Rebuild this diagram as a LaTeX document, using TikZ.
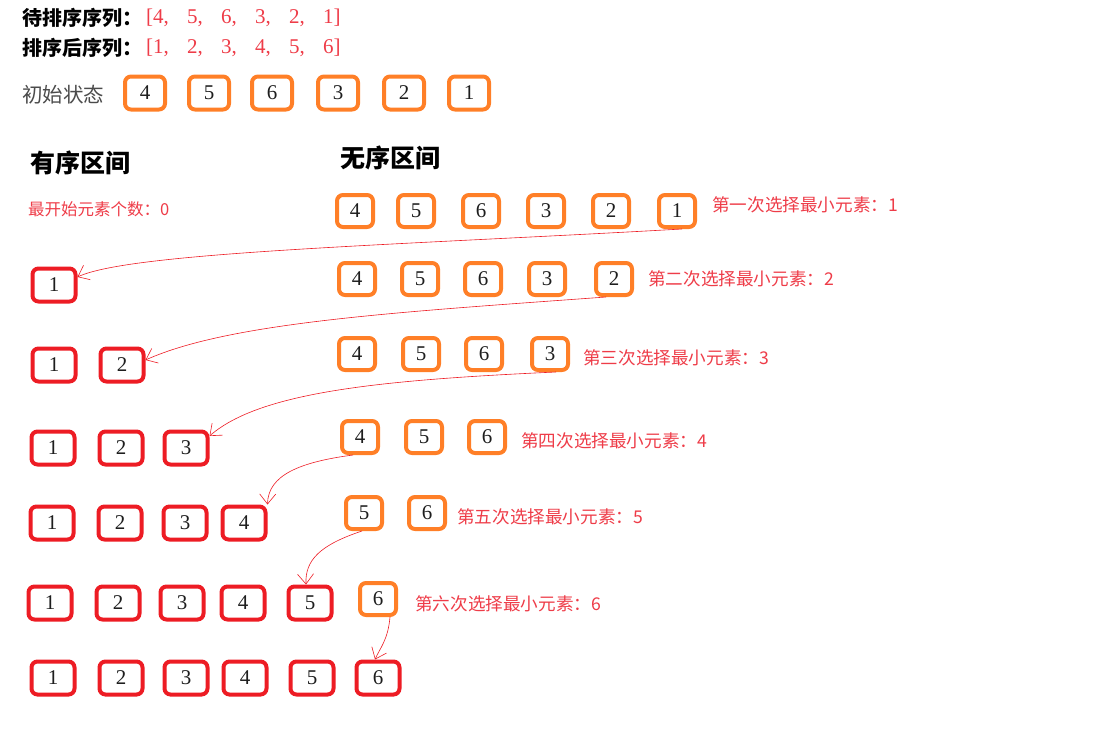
\documentclass[tikz,border=0pt]{standalone}
\usepackage{fontspec}
\newfontfamily\cjk{Noto Sans CJK SC}
\newfontfamily\dig{Liberation Serif}
\usetikzlibrary{arrows.meta}
\definecolor{bxorange}{RGB}{255,127,39}
\definecolor{bxred}{RGB}{237,28,36}
\definecolor{txtred}{RGB}{238,60,72}
\definecolor{ink}{RGB}{30,30,30}
\newcommand{\itm}[1]{\makebox[34pt][l]{#1,}}
\begin{document}
\begin{tikzpicture}[x=1pt,y=-1pt,
 ob/.style={draw=bxorange, line width=4pt, rounded corners=6pt, minimum width=36pt, minimum height=32pt, inner sep=0pt, font=\dig\fontsize{21}{21}\selectfont, text=ink},
 ib/.style={ob, minimum width=40pt, minimum height=33pt},
 rb/.style={ob, draw=bxred, minimum width=43pt, minimum height=33pt},
 lab/.style={anchor=west, inner sep=0pt, text=txtred, font=\cjk\fontsize{17.6}{18}\selectfont},
 head/.style={anchor=west, inner sep=0pt, text=black, font=\cjk\bfseries\fontsize{20}{20}\selectfont},
 big/.style={anchor=west, inner sep=0pt, text=black, font=\cjk\bfseries\fontsize{25}{25}\selectfont},
 mv/.style={draw=bxred, line width=0.6pt, -{Straight Barb[length=10pt,width=16pt]}},
]
\useasboundingbox (0,0) rectangle (1098,737);
% top texts
\node[head] (t1) at (22,18) {待排序序列：};
\node[head] (t2) at (22,48) {排序后序列：};
\node[anchor=west, inner sep=0pt, text=txtred, font=\dig\fontsize{21}{21}\selectfont] (q1) at (146,18) {[\itm{4}\itm{5}\itm{6}\itm{3}\itm{2}1]};
\node[anchor=west, inner sep=0pt, text=txtred, font=\dig\fontsize{21}{21}\selectfont] (q2) at (146,48) {[\itm{1}\itm{2}\itm{3}\itm{4}\itm{5}6]};
\node[anchor=west, inner sep=0pt, text=ink!80, font=\cjk\fontsize{20.5}{21}\selectfont] (init) at (22,95) {初始状态};
% initial row
\foreach \v/\x [count=\k] in {4/145,5/209,6/272,3/338,2/404,1/469}
  \node[ib] (i\k) at (\x,93) {\v};
% headers
\node[big] (hs) at (30,163) {有序区间};
\node[big] (hu) at (340,158) {无序区间};
\node[lab, font=\cjk\fontsize{16.5}{17}\selectfont] (n0) at (28,209) {最开始元素个数：0};
% unsorted rows
\foreach \v/\x [count=\k] in {4/355,5/416,6/481,3/546,2/611,1/677}
  \node[ob] (u1-\k) at (\x,211) {\v};
\foreach \v/\x [count=\k] in {4/357,5/420,6/483,3/547,2/614}
  \node[ob] (u2-\k) at (\x,279) {\v};
\foreach \v/\x [count=\k] in {4/357,5/421,6/484,3/550}
  \node[ob] (u3-\k) at (\x,354) {\v};
\foreach \v/\x [count=\k] in {4/360,5/424,6/487}
  \node[ob] (u4-\k) at (\x,437) {\v};
\foreach \v/\x [count=\k] in {5/364,6/427}
  \node[ob] (u5-\k) at (\x,513) {\v};
\node[ob] (u6-1) at (378,599) {6};
% labels
\node[lab] (l1) at (712,205) {第一次选择最小元素：1};
\node[lab] (l2) at (648,279) {第二次选择最小元素：2};
\node[lab] (l3) at (583,358) {第三次选择最小元素：3};
\node[lab] (l4) at (521,441) {第四次选择最小元素：4};
\node[lab] (l5) at (457,517) {第五次选择最小元素：5};
\node[lab] (l6) at (415,604) {第六次选择最小元素：6};
% sorted rows
\node[rb] (s1-1) at (54,285) {1};
\foreach \v/\x in {1/54,2/122}
  \node[rb] (s2-\v) at (\x,365) {\v};
\foreach \v/\x in {1/53,2/121,3/186}
  \node[rb] (s3-\v) at (\x,448) {\v};
\foreach \v/\x in {1/52,2/120,3/185,4/244}
  \node[rb] (s4-\v) at (\x,523) {\v};
\foreach \v/\x in {1/50,2/118,3/182,4/243,5/310}
  \node[rb] (s5-\v) at (\x,603) {\v};
\foreach \v/\x in {1/53,2/121,3/186,4/245,5/312,6/378}
  \node[rb] (s6-\v) at (\x,678) {\v};
% moves
\draw[mv] ([xshift=5pt]u1-6.south) .. controls (400,245) and (130,252) .. ([yshift=8pt]s1-1.east);
\draw[mv] ([xshift=-8pt]u2-5.south) .. controls (400,312) and (230,322) .. ([yshift=5pt]s2-2.east);
\draw[mv] ([xshift=6pt]u3-4.south) .. controls (380,380) and (260,392) .. ([yshift=12pt]s3-3.east);
\draw[mv] ([xshift=-7pt]u4-1.south) .. controls (300,462) and (268,475) .. (s4-4.north east);
\draw[mv] ([xshift=-2pt]u5-1.south) .. controls (320,545) and (305,560) .. ([xshift=-4pt]s5-5.north);
\draw[mv] ([xshift=12pt]u6-1.south) .. controls (388,640) and (380,648) .. ([xshift=-3pt]s6-6.north);
\end{tikzpicture}
\end{document}
